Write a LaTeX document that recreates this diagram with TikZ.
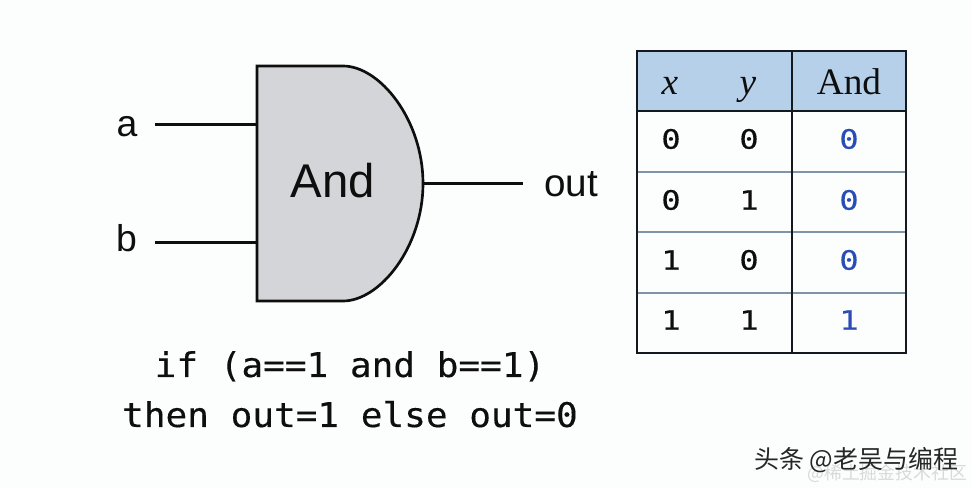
\documentclass[tikz,border=0pt]{standalone}
\usepackage{fontspec}
\setmainfont{Liberation Sans}
\setmonofont{DejaVu Sans Mono}
\newfontfamily\cjkfont{Noto Sans CJK SC}
\newfontfamily\timesfont{Liberation Serif}
\newfontfamily\cellfont[FakeStretch=1.2,FakeBold=0.5]{DejaVu Sans Mono}
\newfontfamily\codefont[FakeStretch=1.06,FakeBold=0.3]{DejaVu Sans Mono}
\definecolor{bgc}{HTML}{FCFDFD}
\definecolor{gatefill}{HTML}{D3D5D8}
\definecolor{inkc}{HTML}{0E0E0E}
\definecolor{headfill}{HTML}{B7D0EA}
\definecolor{tline}{HTML}{14181F}
\definecolor{rowline}{HTML}{7F94A6}
\definecolor{bluec}{HTML}{2A4DB5}
\tikzset{
  wire/.style={draw=inkc,line width=1.6pt},
  lab/.style={inner sep=0pt,font=\fontsize{28}{30}\selectfont,text=inkc},
  cell/.style={inner sep=0pt,font=\cellfont\fontsize{20}{22}\selectfont,text=inkc},
  rescell/.style={cell,text=bluec},
  head/.style={inner sep=0pt,text=inkc,font=\timesfont\fontsize{28}{30}\selectfont},
  code/.style={inner sep=0pt,font=\codefont\fontsize{25.5}{28}\selectfont,text=inkc},
}
\begin{document}
\begin{tikzpicture}[x=0.75pt,y=-0.75pt]
\useasboundingbox (0,0) rectangle (972,488);
\fill[bgc] (0,0) rectangle (972,488);
% gate
\path[fill=gatefill,draw=inkc,line width=2pt,line join=miter]
  (257,66) -- (343,66) .. controls (380,66) and (423,120) .. (423,183.5)
  .. controls (423,247) and (380,301) .. (343,301) -- (257,301) -- cycle;
\coordinate (ga) at (257,124.5);
\coordinate (gb) at (257,242.5);
\coordinate (gout) at (423,183.5);
\coordinate (wa) at (155,124.5);
\coordinate (wb) at (155,242.5);
\coordinate (wout) at (523,183.5);
\draw[wire] (wa) -- (ga);
\draw[wire] (wb) -- (gb);
\draw[wire] (gout) -- (wout);
\node[lab,font=\fontsize{35.5}{38}\selectfont] (gname) at (333,181) {And};
\node[lab,anchor=base] (la) at (127,137) {a};
\node[lab,anchor=base] (lb) at (126.5,252) {b};
\node[lab,anchor=base,font=\fontsize{29}{30}\selectfont] (lo) at (571,197) {out};
% table
\fill[headfill] (637,51) rectangle (906,111);
\foreach \yy in {172,232,293}{\draw[rowline,line width=0.9pt] (637,\yy) -- (906,\yy);}
\draw[tline,line width=1.4pt] (637,51) rectangle (906,353);
\draw[tline,line width=1.4pt] (637,111) -- (906,111);
\draw[tline,line width=1.4pt] (792,51) -- (792,353);
\node[head,anchor=base] (hx) at (670,95) {\textit{x}};
\node[head,anchor=base] (hy) at (748,95) {\textit{y}};
\node[head,anchor=base] (hr) at (849,95) {And};
\node[cell] (c11) at (671,139) {0}; \node[cell] (c12) at (749,139) {0}; \node[rescell] (c13) at (849,139) {0};
\node[cell] (c21) at (671,200) {0}; \node[cell] (c22) at (749,200) {1}; \node[rescell] (c23) at (849,200) {0};
\node[cell] (c31) at (671,260) {1}; \node[cell] (c32) at (749,260) {0}; \node[rescell] (c33) at (849,260) {0};
\node[cell] (c41) at (671,320) {1}; \node[cell] (c42) at (749,320) {1}; \node[rescell] (c43) at (849,320) {1};
% code
\node[code,anchor=base] (l1) at (350,377) {if (a==1 and b==1)};
\node[code,anchor=base] (l2) at (350,427) {then out=1 else out=0};
% watermarks
\node[inner sep=0pt,anchor=west,text=black!15,font=\cjkfont\fontsize{13.4}{16}\selectfont] (w2) at (807,473) {@稀土掘金技术社区};
\node[inner sep=0pt,anchor=west,text=black!85,font=\cjkfont\fontsize{18.7}{22}\selectfont] (w1) at (754,460) {头条 @老吴与编程};
\end{tikzpicture}
\end{document}
